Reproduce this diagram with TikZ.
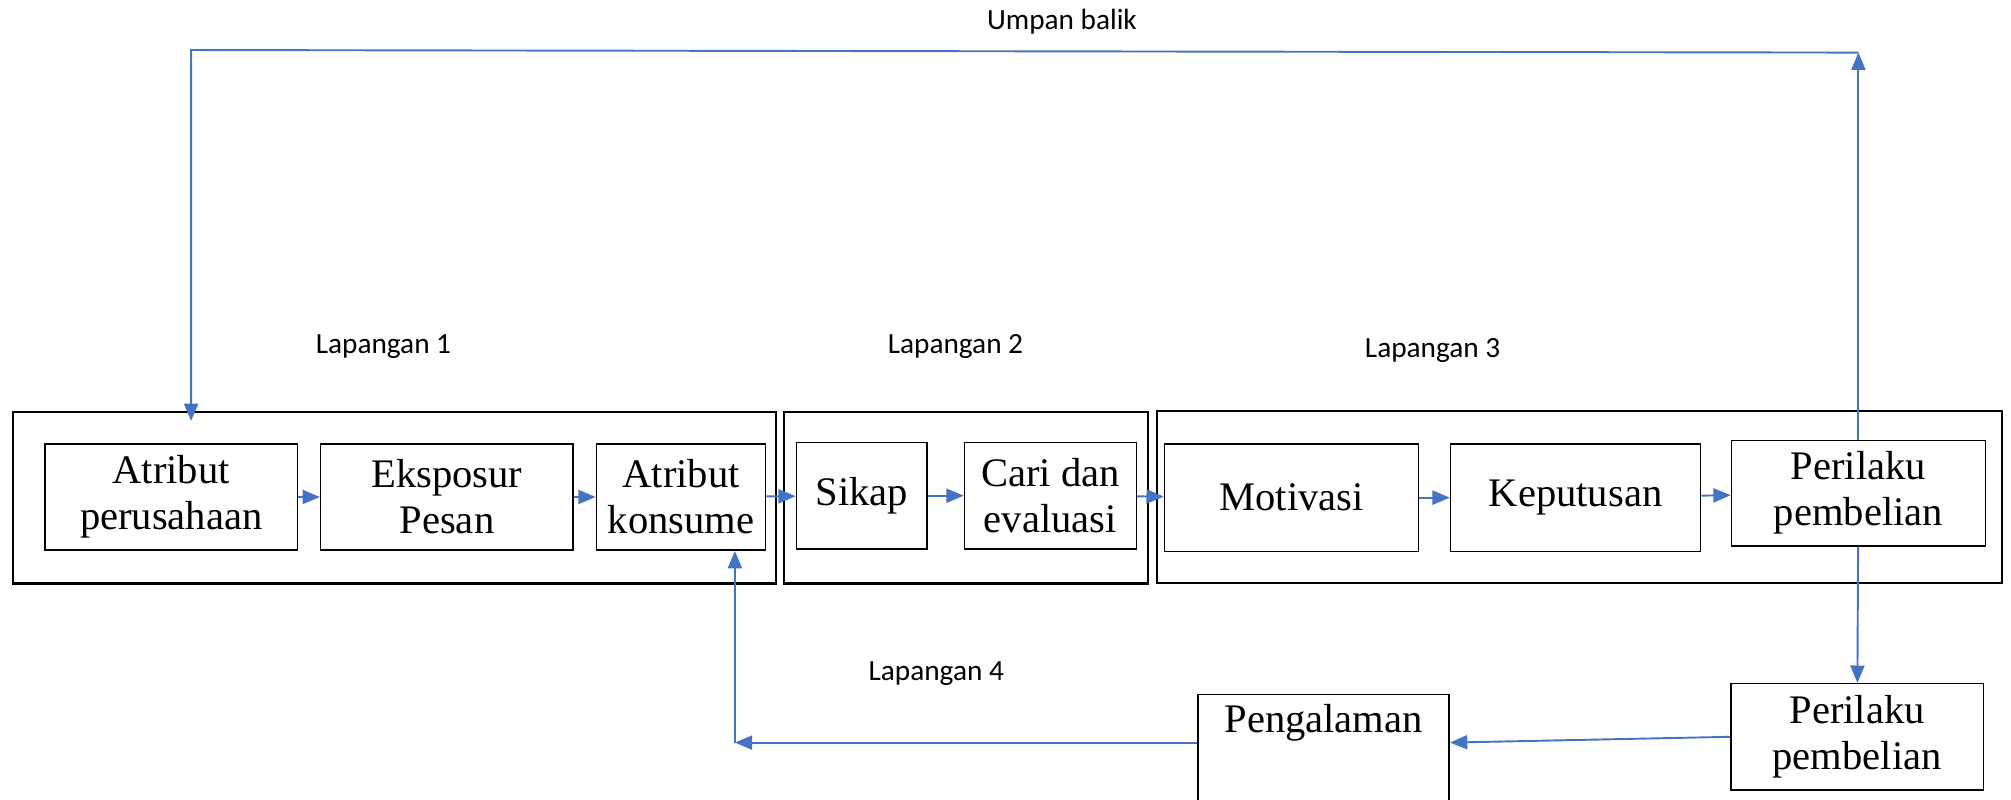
\documentclass[tikz,border=0pt]{standalone}
\usepackage{fontspec}
\setmainfont{Liberation Serif}
\newfontfamily\labelfont{Carlito}
\usepackage{xcolor}
\usepackage{tikz}
\usetikzlibrary{arrows.meta}
\definecolor{linkblue}{HTML}{4472C4}

\begin{document}
\begin{tikzpicture}[x=0.02cm, y=-0.02cm,
  box/.style={draw, line width=0.7pt, align=center, inner sep=2pt,
    minimum height=1.66cm, font=\fontsize{18}{20.5}\selectfont},
  field/.style={draw, line width=1pt, minimum height=2.68cm},
  lbl/.style={font=\labelfont\fontsize{13}{15}\selectfont},
  arr/.style={draw=linkblue, line width=0.85pt,
    -{Triangle[length=0.27cm, width=0.22cm]}}]
\useasboundingbox (0,0) rectangle (1568,623);

\node[field, minimum width=11.9cm]  at (307.5, 388)  (lap1) {};
\node[field, minimum width=5.68cm]  at (753, 388)    (lap2) {};
\node[field, minimum width=13.18cm] at (1231.5, 387.5) (lap3) {};

\node[lbl] at (299, 270)  (t1) {Lapangan 1};
\node[lbl] at (745, 270)  (t2) {Lapangan 2};
\node[lbl] at (1117, 273) (t3) {Lapangan 3};
\node[lbl] at (730, 525)  (t4) {Lapangan 4};
\node[lbl] at (828, 17)   (tf) {Umpan balik};

\node[box, minimum width=3.94cm] at (133.5, 387.5) (atrper) {Atribut\\perusahaan};
\node[box, minimum width=3.94cm] at (348.5, 387.5) (ekspos) {Eksposur\\Pesan};
\node[box, minimum width=2.64cm] at (531, 387.5)   (atrkon) {Atribut\\konsume};
\node[box, minimum width=2.04cm] at (672, 386.5)   (sikap)  {Sikap};
\node[box, minimum width=2.68cm] at (819, 386.5)   (cari)   {Cari dan\\evaluasi};
\node[box, minimum width=3.96cm, minimum height=1.68cm] at (1007, 388)   (motiv) {Motivasi};
\node[box, minimum width=3.90cm, minimum height=1.68cm] at (1228.5, 388) (keput) {Keputusan};
\node[box, minimum width=3.96cm, minimum height=1.64cm] at (1449, 384.5) (beli)  {Perilaku\\pembelian};
\node[box, minimum width=3.94cm] at (1448, 574.5) (beli2) {Perilaku\\pembelian};
\node[box, anchor=north, minimum width=3.92cm, minimum height=0pt,
  text height=0.52cm, text depth=1.6cm] at (1032, 541) (alam) {Pengalaman};

\coordinate (fbR) at (1449, 41);
\coordinate (fbL) at (149, 39);
\coordinate (back) at (573, 579);

% arus utama
\draw[arr] (atrper) -- (ekspos);
\draw[arr] (ekspos) -- (atrkon);
\draw[arr] (atrkon) -- (sikap);
\draw[arr] (sikap)  -- (cari);
\draw[arr] (cari)   -- (motiv);
\draw[arr] (motiv)  -- (keput);
\draw[arr] (keput)  -- (beli);

% umpan balik
\draw[arr] (beli.north) -- (fbR);
\draw[arr] (fbR) -- (fbL) -- ([yshift=-0.16cm]fbL |- lap1.north);

% pengalaman
\draw[arr] (beli) -- (beli2);
\draw[arr] (beli2.west) -- (alam.east |- back);
\draw[arr] (alam.west |- back) -- (back);
\draw[arr] (back) -- (back |- atrkon.south);
\end{tikzpicture}
\end{document}
